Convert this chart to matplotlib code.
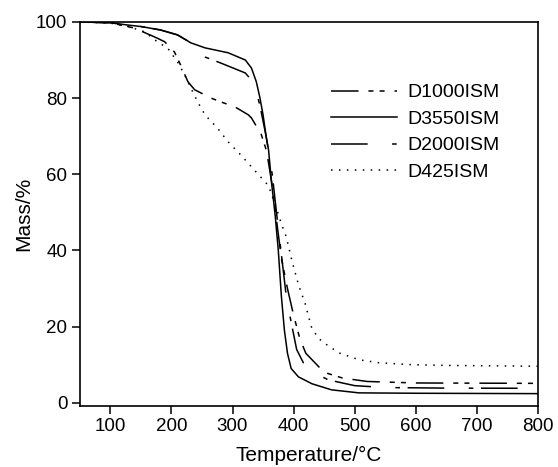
import matplotlib
matplotlib.use("Agg")
import matplotlib.pyplot as plt
import numpy as np

plt.rcParams['font.family'] = ['Liberation Sans', 'DejaVu Sans']

# D3550ISM (solid)
t_3550 = [50, 100, 128, 150, 182, 210, 232, 255, 293, 321, 331, 339, 345, 350, 355, 359, 364, 370, 375, 380, 385, 390, 396, 408, 430, 462, 507, 600, 800]
m_3550 = [100, 99.8, 99.2, 98.8, 97.9, 96.6, 94.5, 93.2, 91.9, 90.0, 87.9, 84.3, 80.0, 75.6, 70.0, 66.4, 57.7, 49.0, 40.0, 28.0, 19.0, 13.0, 9.0, 6.8, 5.0, 3.4, 2.6, 2.5, 2.4]

# D2000ISM
t_2000 = [50, 100, 128, 150, 182, 210, 232, 255, 281, 321, 335, 345, 355, 365, 372, 380, 388, 395, 405, 416, 435, 457, 500, 550, 650, 800]
m_2000 = [100, 99.8, 99.2, 98.8, 97.9, 96.6, 94.5, 90.8, 89.2, 86.6, 84.0, 78.0, 70.0, 60.0, 50.0, 39.0, 28.0, 22.0, 14.0, 10.5, 7.8, 6.0, 4.5, 4.0, 3.85, 3.8]

# D1000ISM
t_1000 = [50, 100, 139, 172, 189, 205, 215, 227, 238, 265, 281, 304, 326, 331, 347, 356, 364, 372, 380, 390, 400, 410, 420, 450, 480, 520, 600, 800]
m_1000 = [100, 99.8, 98.4, 96.1, 94.8, 92.1, 88.7, 84.3, 82.2, 80.0, 79.0, 77.7, 75.6, 74.8, 70.5, 66.0, 58.0, 48.0, 38.0, 30.0, 23.0, 17.0, 13.0, 8.0, 6.5, 5.6, 5.2, 5.1]

# D425ISM (dotted)
t_425 = [50, 100, 130, 156, 177, 194, 210, 222, 232, 243, 255, 276, 293, 314, 342, 359, 372, 380, 388, 397, 408, 419, 429, 440, 452, 474, 507, 540, 594, 655, 800]
m_425 = [100, 99.7, 98.8, 97.4, 94.8, 93.1, 89.5, 86.0, 82.6, 79.0, 75.6, 72.0, 68.5, 65.0, 60.0, 57.0, 51.0, 47.0, 43.6, 37.5, 31.0, 26.0, 20.0, 17.0, 15.5, 13.1, 11.3, 10.5, 10.0, 9.8, 9.6]

labels = ['D1000ISM', 'D3550ISM', 'D2000ISM', 'D425ISM']
x_ticks = [100, 200, 300, 400, 500, 600, 700, 800]
y_ticks = [0, 20, 40, 60, 80, 100]

fig = plt.figure(figsize=(5.58, 4.67), dpi=100)
ax = fig.add_axes([0.143, 0.131, 0.821, 0.822])

lw = 1.1
ax.plot(t_1000, m_1000, color='black', lw=lw, dashes=(18, 6.5, 3.3, 4, 3.3, 6.5), label=labels[0])
ax.plot(t_3550, m_3550, color='black', lw=lw, label=labels[1])
ax.plot(t_2000, m_2000, color='black', lw=lw, dashes=(24, 16, 3, 5), label=labels[2])
ax.plot(t_425, m_425, color='black', lw=lw, dashes=(1.0, 4.2), label=labels[3])

ax.set_xlim(50, 800)
ax.set_ylim(-0.8, 100)
ax.set_xticks(x_ticks)
ax.set_yticks(y_ticks)
ax.tick_params(direction='out', length=6, width=1.1, labelsize=13.5, pad=3, top=False, right=False)
for s in ax.spines.values():
    s.set_linewidth(1.2)

ax.set_xlabel('Temperature/°C', fontsize=15, labelpad=8)
ax.set_ylabel('Mass/%', fontsize=15, labelpad=2)

leg = ax.legend(loc='upper left', bbox_to_anchor=(0.549, 0.839), frameon=False,
                fontsize=14, handlelength=3.4, handletextpad=0.5,
                labelspacing=0.46, borderpad=0, borderaxespad=0)

fig.savefig('out.png', dpi=100)
